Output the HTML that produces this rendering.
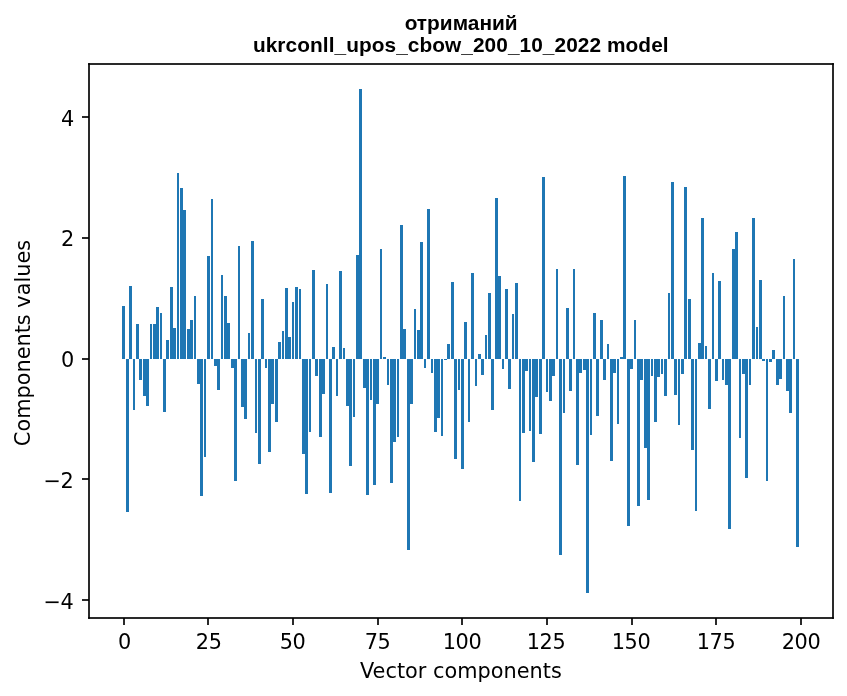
<!DOCTYPE html>
<html lang="uk">
<head>
<meta charset="utf-8">
<title>отриманий — ukrconll_upos_cbow_200_10_2022 model</title>
<style>
html,body{margin:0;padding:0;background:#fff;}
body{width:847px;height:696px;overflow:hidden;position:relative;}
svg{position:absolute;left:0;top:0;display:block;}
.b rect{fill:#1f77b4;}
.s{fill:#2a2a2a;}
text{fill:#000;font-size:20.8333px;}
.t{font-family:"DejaVu Sans","Liberation Sans",sans-serif;}
.h{font-family:"Liberation Sans","DejaVu Sans",sans-serif;font-weight:bold;}
</style>
</head>
<body>
<svg width="847" height="696" viewBox="0 0 847 696">
<rect x="0" y="0" width="847" height="696" fill="#ffffff"/>
<g class="b" shape-rendering="crispEdges">
<rect x="122" y="306" width="3" height="53"/><rect x="126" y="359" width="3" height="153"/><rect x="129" y="286" width="3" height="73"/><rect x="133" y="359" width="2" height="51"/><rect x="136" y="324" width="3" height="35"/>
<rect x="139" y="359" width="3" height="21"/><rect x="143" y="359" width="3" height="37"/><rect x="146" y="359" width="3" height="47"/><rect x="150" y="324" width="2" height="35"/><rect x="153" y="324" width="3" height="35"/>
<rect x="156" y="307" width="3" height="52"/><rect x="160" y="313" width="2" height="46"/><rect x="163" y="359" width="3" height="53"/><rect x="166" y="340" width="3" height="19"/><rect x="170" y="287" width="3" height="72"/>
<rect x="173" y="328" width="3" height="31"/><rect x="177" y="173" width="2" height="186"/><rect x="180" y="188" width="3" height="171"/><rect x="183" y="210" width="3" height="149"/><rect x="187" y="329" width="3" height="30"/>
<rect x="190" y="320" width="3" height="39"/><rect x="194" y="296" width="2" height="63"/><rect x="197" y="359" width="3" height="25"/><rect x="200" y="359" width="3" height="137"/><rect x="204" y="359" width="2" height="98"/>
<rect x="207" y="256" width="3" height="103"/><rect x="211" y="199" width="2" height="160"/><rect x="214" y="359" width="3" height="7"/><rect x="217" y="359" width="3" height="31"/><rect x="221" y="275" width="2" height="84"/>
<rect x="224" y="296" width="3" height="63"/><rect x="227" y="323" width="3" height="36"/><rect x="231" y="359" width="3" height="9"/><rect x="234" y="359" width="3" height="122"/><rect x="238" y="246" width="2" height="113"/>
<rect x="241" y="359" width="3" height="48"/><rect x="244" y="359" width="3" height="60"/><rect x="248" y="333" width="2" height="26"/><rect x="251" y="241" width="3" height="118"/><rect x="255" y="359" width="2" height="74"/>
<rect x="258" y="359" width="3" height="105"/><rect x="261" y="299" width="3" height="60"/><rect x="265" y="359" width="2" height="9"/><rect x="268" y="359" width="3" height="93"/><rect x="271" y="359" width="3" height="45"/>
<rect x="275" y="359" width="3" height="63"/><rect x="278" y="342" width="3" height="17"/><rect x="282" y="331" width="2" height="28"/><rect x="285" y="288" width="3" height="71"/><rect x="288" y="337" width="3" height="22"/>
<rect x="292" y="302" width="2" height="57"/><rect x="295" y="287" width="3" height="72"/><rect x="299" y="289" width="2" height="70"/><rect x="302" y="359" width="3" height="95"/><rect x="305" y="359" width="3" height="135"/>
<rect x="309" y="359" width="2" height="73"/><rect x="312" y="270" width="3" height="89"/><rect x="315" y="359" width="3" height="17"/><rect x="319" y="359" width="3" height="78"/><rect x="322" y="359" width="3" height="35"/>
<rect x="326" y="284" width="2" height="75"/><rect x="329" y="359" width="3" height="134"/><rect x="332" y="347" width="3" height="12"/><rect x="336" y="359" width="2" height="37"/><rect x="339" y="271" width="3" height="88"/>
<rect x="343" y="348" width="2" height="11"/><rect x="346" y="359" width="3" height="47"/><rect x="349" y="359" width="3" height="107"/><rect x="353" y="359" width="2" height="58"/><rect x="356" y="255" width="3" height="104"/>
<rect x="359" y="89" width="3" height="270"/><rect x="363" y="359" width="3" height="29"/><rect x="366" y="359" width="3" height="136"/><rect x="370" y="359" width="2" height="41"/><rect x="373" y="359" width="3" height="126"/>
<rect x="376" y="359" width="3" height="45"/><rect x="380" y="249" width="2" height="110"/><rect x="383" y="357" width="3" height="2"/><rect x="387" y="359" width="2" height="26"/><rect x="390" y="359" width="3" height="124"/>
<rect x="393" y="359" width="3" height="83"/><rect x="397" y="359" width="2" height="78"/><rect x="400" y="225" width="3" height="134"/><rect x="403" y="329" width="3" height="30"/><rect x="407" y="359" width="3" height="191"/>
<rect x="410" y="359" width="3" height="45"/><rect x="414" y="309" width="2" height="50"/><rect x="417" y="330" width="3" height="29"/><rect x="420" y="242" width="3" height="117"/><rect x="424" y="359" width="2" height="9"/>
<rect x="427" y="209" width="3" height="150"/><rect x="431" y="359" width="2" height="14"/><rect x="434" y="359" width="3" height="73"/><rect x="437" y="359" width="3" height="59"/><rect x="441" y="359" width="2" height="77"/>
<rect x="444" y="359" width="3" height="1"/><rect x="447" y="344" width="3" height="15"/><rect x="451" y="282" width="3" height="77"/><rect x="454" y="359" width="3" height="100"/><rect x="458" y="359" width="2" height="31"/>
<rect x="461" y="359" width="3" height="110"/><rect x="464" y="322" width="3" height="37"/><rect x="468" y="359" width="2" height="63"/><rect x="471" y="273" width="3" height="86"/><rect x="475" y="359" width="2" height="27"/>
<rect x="478" y="354" width="3" height="5"/><rect x="481" y="359" width="3" height="16"/><rect x="485" y="335" width="2" height="24"/><rect x="488" y="293" width="3" height="66"/><rect x="491" y="359" width="3" height="51"/>
<rect x="495" y="198" width="3" height="161"/><rect x="498" y="276" width="3" height="83"/><rect x="502" y="359" width="2" height="10"/><rect x="505" y="289" width="3" height="70"/><rect x="508" y="359" width="3" height="30"/>
<rect x="512" y="314" width="2" height="45"/><rect x="515" y="283" width="3" height="76"/><rect x="519" y="359" width="2" height="142"/><rect x="522" y="359" width="3" height="74"/><rect x="525" y="359" width="3" height="12"/>
<rect x="529" y="359" width="2" height="72"/><rect x="532" y="359" width="3" height="103"/><rect x="535" y="359" width="3" height="38"/><rect x="539" y="359" width="3" height="75"/><rect x="542" y="177" width="3" height="182"/>
<rect x="546" y="359" width="2" height="33"/><rect x="549" y="359" width="3" height="42"/><rect x="552" y="359" width="3" height="17"/><rect x="556" y="269" width="2" height="90"/><rect x="559" y="359" width="3" height="196"/>
<rect x="563" y="359" width="2" height="54"/><rect x="566" y="308" width="3" height="51"/><rect x="569" y="359" width="3" height="32"/><rect x="573" y="269" width="2" height="90"/><rect x="576" y="359" width="3" height="106"/>
<rect x="579" y="359" width="3" height="14"/><rect x="583" y="359" width="3" height="11"/><rect x="586" y="359" width="3" height="234"/><rect x="590" y="359" width="2" height="76"/><rect x="593" y="313" width="3" height="46"/>
<rect x="596" y="359" width="3" height="57"/><rect x="600" y="320" width="3" height="39"/><rect x="603" y="359" width="3" height="21"/><rect x="607" y="344" width="2" height="15"/><rect x="610" y="359" width="3" height="102"/>
<rect x="613" y="359" width="3" height="14"/><rect x="617" y="359" width="2" height="65"/><rect x="620" y="357" width="3" height="2"/><rect x="623" y="176" width="3" height="183"/><rect x="627" y="359" width="3" height="167"/>
<rect x="630" y="359" width="3" height="10"/><rect x="634" y="320" width="2" height="39"/><rect x="637" y="359" width="3" height="147"/><rect x="640" y="359" width="3" height="21"/><rect x="644" y="359" width="3" height="89"/>
<rect x="647" y="359" width="3" height="141"/><rect x="651" y="359" width="2" height="17"/><rect x="654" y="359" width="3" height="63"/><rect x="657" y="359" width="3" height="18"/><rect x="661" y="359" width="2" height="15"/>
<rect x="664" y="359" width="3" height="37"/><rect x="668" y="293" width="2" height="66"/><rect x="671" y="182" width="3" height="177"/><rect x="674" y="359" width="3" height="36"/><rect x="678" y="359" width="2" height="66"/>
<rect x="681" y="359" width="3" height="15"/><rect x="684" y="187" width="3" height="172"/><rect x="688" y="299" width="3" height="60"/><rect x="691" y="359" width="3" height="91"/><rect x="695" y="359" width="2" height="152"/>
<rect x="698" y="343" width="3" height="16"/><rect x="701" y="218" width="3" height="141"/><rect x="705" y="346" width="2" height="13"/><rect x="708" y="359" width="3" height="50"/><rect x="712" y="273" width="2" height="86"/>
<rect x="715" y="359" width="3" height="22"/><rect x="718" y="281" width="3" height="78"/><rect x="722" y="359" width="2" height="21"/><rect x="725" y="359" width="3" height="26"/><rect x="728" y="359" width="3" height="170"/>
<rect x="732" y="249" width="3" height="110"/><rect x="735" y="232" width="3" height="127"/><rect x="739" y="359" width="2" height="79"/><rect x="742" y="359" width="3" height="15"/><rect x="745" y="359" width="3" height="119"/>
<rect x="749" y="359" width="2" height="26"/><rect x="752" y="218" width="3" height="141"/><rect x="756" y="327" width="2" height="32"/><rect x="759" y="280" width="3" height="79"/><rect x="762" y="359" width="3" height="2"/>
<rect x="766" y="359" width="2" height="122"/><rect x="769" y="359" width="3" height="3"/><rect x="772" y="350" width="3" height="9"/><rect x="776" y="359" width="3" height="26"/><rect x="779" y="359" width="3" height="20"/>
<rect x="783" y="296" width="2" height="63"/><rect x="786" y="359" width="3" height="32"/><rect x="789" y="359" width="3" height="54"/><rect x="793" y="259" width="2" height="100"/><rect x="796" y="359" width="3" height="188"/>
</g>
<g class="s" shape-rendering="crispEdges">
<rect x="90" y="63" width="742" height="2"/><rect x="90" y="617" width="742" height="2"/><rect x="88" y="65" width="2" height="552"/><rect x="832" y="65" width="2" height="552"/>
<rect x="123" y="619" width="2" height="6"/><rect x="207" y="619" width="2" height="6"/><rect x="292" y="619" width="2" height="6"/><rect x="377" y="619" width="2" height="6"/><rect x="461" y="619" width="2" height="6"/><rect x="546" y="619" width="2" height="6"/><rect x="631" y="619" width="2" height="6"/><rect x="715" y="619" width="2" height="6"/><rect x="800" y="619" width="2" height="6"/>
<rect x="82" y="116" width="6" height="2"/><rect x="82" y="237" width="6" height="2"/><rect x="82" y="358" width="6" height="2"/><rect x="82" y="478" width="6" height="2"/><rect x="82" y="599" width="6" height="2"/>
<rect x="88" y="116" width="1" height="2" fill="#070707"/><rect x="88" y="237" width="1" height="2" fill="#070707"/><rect x="88" y="358" width="1" height="2" fill="#070707"/><rect x="88" y="478" width="1" height="2" fill="#070707"/><rect x="88" y="599" width="1" height="2" fill="#070707"/>
<rect x="123" y="618" width="2" height="1" fill="#070707"/><rect x="207" y="618" width="2" height="1" fill="#070707"/><rect x="292" y="618" width="2" height="1" fill="#070707"/><rect x="377" y="618" width="2" height="1" fill="#070707"/><rect x="461" y="618" width="2" height="1" fill="#070707"/><rect x="546" y="618" width="2" height="1" fill="#070707"/><rect x="631" y="618" width="2" height="1" fill="#070707"/><rect x="715" y="618" width="2" height="1" fill="#070707"/><rect x="800" y="618" width="2" height="1" fill="#070707"/>
<rect x="88" y="63" width="1" height="1" fill="#171717"/><rect x="89" y="63" width="1" height="1" fill="#0c0c0c"/><rect x="88" y="64" width="1" height="1" fill="#0c0c0c"/><rect x="89" y="64" width="1" height="1" fill="#070707"/><rect x="88" y="618" width="1" height="1" fill="#171717"/><rect x="89" y="618" width="1" height="1" fill="#0c0c0c"/><rect x="88" y="617" width="1" height="1" fill="#0c0c0c"/><rect x="89" y="617" width="1" height="1" fill="#070707"/><rect x="833" y="63" width="1" height="1" fill="#171717"/><rect x="832" y="63" width="1" height="1" fill="#0c0c0c"/><rect x="833" y="64" width="1" height="1" fill="#0c0c0c"/><rect x="832" y="64" width="1" height="1" fill="#070707"/><rect x="833" y="618" width="1" height="1" fill="#171717"/><rect x="832" y="618" width="1" height="1" fill="#0c0c0c"/><rect x="833" y="617" width="1" height="1" fill="#0c0c0c"/><rect x="832" y="617" width="1" height="1" fill="#070707"/>
</g>
<g class="t">
<text x="124.670" y="649" text-anchor="middle" letter-spacing="-0.120">0</text>
<text x="208.720" y="649" text-anchor="middle" letter-spacing="-0.240">25</text>
<text x="292.600" y="649" text-anchor="middle" letter-spacing="-0.360">50</text>
<text x="377.610" y="649" text-anchor="middle" letter-spacing="-0.272">75</text>
<text x="461.985" y="649" text-anchor="middle" letter-spacing="-0.360">100</text>
<text x="546.115" y="649" text-anchor="middle" letter-spacing="-0.270">125</text>
<text x="631.000" y="649" text-anchor="middle" letter-spacing="-0.452">150</text>
<text x="716.000" y="649" text-anchor="middle" letter-spacing="-0.420">175</text>
<text x="801.005" y="649" text-anchor="middle" letter-spacing="-0.360">200</text>
<text x="74.100" y="126" text-anchor="end" letter-spacing="-0.120">4</text>
<text x="74.100" y="246" text-anchor="end" letter-spacing="-0.120">2</text>
<text x="74.100" y="367" text-anchor="end" letter-spacing="-0.120">0</text>
<text x="73.475" y="488" text-anchor="end" letter-spacing="-0.360">−2</text>
<text x="73.475" y="609" text-anchor="end" letter-spacing="-0.360">−4</text>
<text x="460.920" y="678" text-anchor="middle" letter-spacing="0.015">Vector components</text>
<text transform="translate(29.50 343.00) rotate(-90)" text-anchor="middle" letter-spacing="0.008">Components values</text>
</g>
<g class="h">
<text x="461.175" y="30" text-anchor="middle" letter-spacing="0.023">отриманий</text>
<text x="460.800" y="52" text-anchor="middle" letter-spacing="0.068">ukrconll_upos_cbow_200_10_2022 model</text>
</g>
</svg>
</body>
</html>
